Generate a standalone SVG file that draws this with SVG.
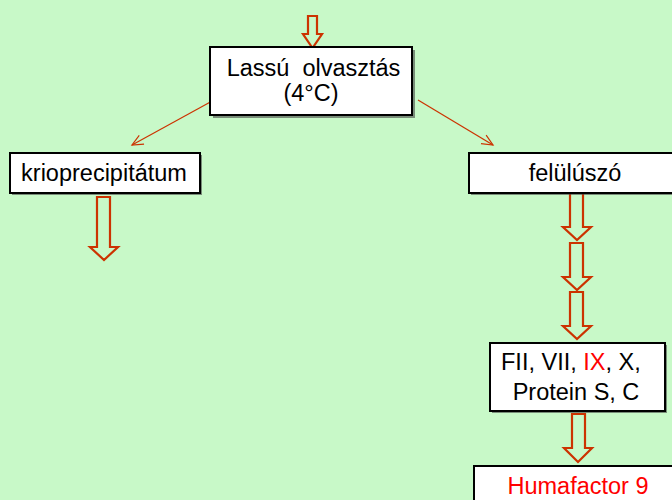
<svg xmlns="http://www.w3.org/2000/svg" width="672" height="500" viewBox="0 0 672 500">
<defs>
<style>
.box{fill:#fff;stroke:#000;stroke-width:2}
.sh{fill:#444;opacity:0.6}
.t{font-family:"Liberation Sans",Arial,sans-serif;font-size:23.5px;fill:#000;text-anchor:middle}
.s{text-anchor:start}
.r{fill:#ff0000}
.blk{fill:none;stroke:#cc3300;stroke-width:2.2;stroke-linejoin:miter}
.thin{stroke:#cc3300;stroke-width:1.2;fill:none}
</style>
<marker id="ah" markerWidth="14" markerHeight="12" refX="12" refY="6" orient="auto" markerUnits="userSpaceOnUse">
<path d="M1,1 L12,6 L1,11" fill="none" stroke="#cc3300" stroke-width="1.2"/>
</marker>
</defs>
<rect width="672" height="500" fill="#c8f9c8"/>
<g id="connectors">
<path class="blk" d="M308,16 H317 V34 H322 L312.5,48 L303,34 H308 Z"/>
<line class="thin" x1="214" y1="100" x2="132" y2="145" marker-end="url(#ah)"/>
<line class="thin" x1="418" y1="100" x2="493" y2="145" marker-end="url(#ah)"/>
<path class="blk" d="M97,197 H110 V247 H118 L104,260 L90,247 H97 Z"/>
<path class="blk" d="M570,193 H583 V227 H591 L577,240 L563,227 H570 Z"/>
<path class="blk" d="M570,243 H583 V277 H591 L577,290 L563,277 H570 Z"/>
<path class="blk" d="M570,292 H583 V326 H591 L577,339 L563,326 H570 Z"/>
<path class="blk" d="M572,414 H585 V448 H592 L578,462 L564,448 H572 Z"/>
</g>
<g id="node-lassu">
<rect class="sh" x="213" y="50" width="202" height="68"/>
<rect class="box" x="210" y="47" width="202" height="68"/>
<text class="t" x="313.5" y="76" xml:space="preserve">Lassú  olvasztás</text>
<text class="t" x="311" y="101">(4°C)</text>
</g>
<g id="node-krio">
<rect class="sh" x="12" y="155" width="190" height="40"/>
<rect class="box" x="10" y="153" width="190" height="40"/>
<text class="t" x="104" y="181">krioprecipitátum</text>
</g>
<g id="node-felul">
<rect class="sh" x="471" y="155" width="210" height="40"/>
<rect class="box" x="469" y="153" width="210" height="40"/>
<text class="t" x="575" y="181">felülúszó</text>
</g>
<g id="node-fii">
<rect class="sh" x="492" y="345" width="175" height="68"/>
<rect class="box" x="490" y="343" width="175" height="68"/>
<text class="t s" x="501" y="370">FII, VII, <tspan class="r">IX</tspan>, X,</text>
<text class="t" x="576" y="400">Protein S, C</text>
</g>
<g id="node-huma">
<rect class="box" x="474" y="466" width="210" height="40"/>
<text class="t r" x="578" y="494">Humafactor 9</text>
</g>
</svg>
